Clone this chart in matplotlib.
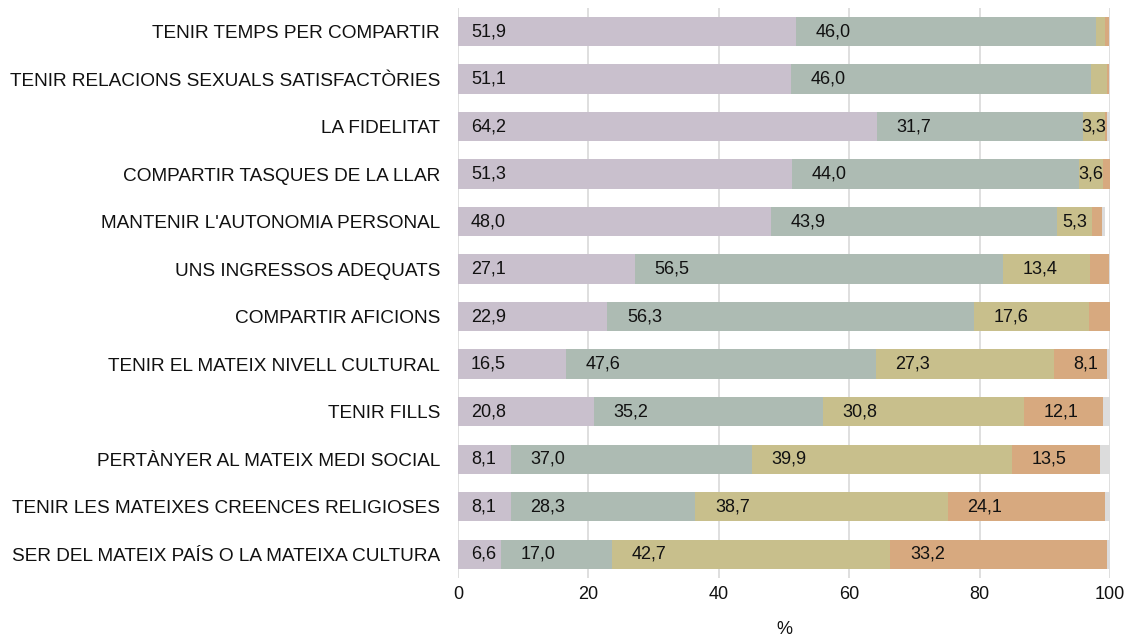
import numpy as np
import matplotlib
matplotlib.use("Agg")
import matplotlib.pyplot as plt

plt.rcParams['font.family'] = ['Liberation Sans', 'DejaVu Sans']

# ---------------- DATA ----------------
categories = [
    "TENIR TEMPS PER COMPARTIR",
    "TENIR RELACIONS SEXUALS SATISFACTÒRIES",
    "LA FIDELITAT",
    "COMPARTIR TASQUES DE LA LLAR",
    "MANTENIR L'AUTONOMIA PERSONAL",
    "UNS INGRESSOS ADEQUATS",
    "COMPARTIR AFICIONS",
    "TENIR EL MATEIX NIVELL CULTURAL",
    "TENIR FILLS",
    "PERTÀNYER AL MATEIX MEDI SOCIAL",
    "TENIR LES MATEIXES CREENCES RELIGIOSES",
    "SER DEL MATEIX PAÍS O LA MATEIXA CULTURA",
]

molt = [51.9, 51.1, 64.2, 51.3, 48.0, 27.1, 22.9, 16.5, 20.8, 8.1, 8.1, 6.6]
bastant = [46.0, 46.0, 31.7, 44.0, 43.9, 56.5, 56.3, 47.6, 35.2, 37.0, 28.3, 17.0]
poc = [1.4, 2.4, 3.3, 3.6, 5.3, 13.4, 17.6, 27.3, 30.8, 39.9, 38.7, 42.7]
gens = [0.5, 0.3, 0.4, 1.1, 1.5, 2.8, 3.2, 8.1, 12.1, 13.5, 24.1, 33.2]
nsnc = [0.2, 0.2, 0.4, 0.0, 0.6, 0.2, 0.0, 0.5, 1.1, 1.5, 0.8, 0.5]

# values below this are not labelled
min_label = 3.25

series = [molt, bastant, poc, gens, nsnc]
colors = ["#c9c0cd", "#adbbb3", "#c8bf8c", "#d7a97f", "#dcdcdc"]
show_labels = [True, True, True, True, False]

# ---------------- PLOT ----------------
fig = plt.figure(figsize=(11.32, 6.37), dpi=100)
ax = fig.add_axes([0.4046, 0.0926, 0.576, 0.895])

y = np.arange(len(categories))
left = np.zeros(len(categories))

for vals, col, lab in zip(series, colors, show_labels):
    vals = np.array(vals)
    ax.barh(y, vals, left=left, height=0.62, color=col, zorder=2)
    if lab:
        for i, (l, v) in enumerate(zip(left, vals)):
            if v < min_label:
                continue
            txt = f"{v:.1f}".replace(".", ",")
            if v < 6:
                ax.text(l + v / 2, i, txt, ha="center", va="center",
                        fontsize=13, color="#111111", zorder=3)
            else:
                off = 2.0 if l == 0 else 3.0
                ax.text(l + off, i, txt, ha="left", va="center",
                        fontsize=13, color="#111111", zorder=3)
    left = left + vals

ax.set_xlim(0, 100)
ax.set_ylim(len(categories) - 0.5, -0.5)
ax.set_yticks(y)
ax.set_yticklabels(categories, fontsize=13.7, color="#111111")
ax.set_xticks([0, 20, 40, 60, 80, 100])
ax.tick_params(axis="both", length=0)
ax.tick_params(axis="y", pad=13)
ax.tick_params(axis="x", pad=6, labelsize=13, labelcolor="#111111")
ax.xaxis.grid(True, color="#d9d9d9", linewidth=1.2, zorder=0)
ax.set_axisbelow(True)
for s in ax.spines.values():
    s.set_visible(False)
ax.set_xlabel("%", fontsize=13, color="#111111", labelpad=13)

fig.savefig("out.png", dpi=100)
